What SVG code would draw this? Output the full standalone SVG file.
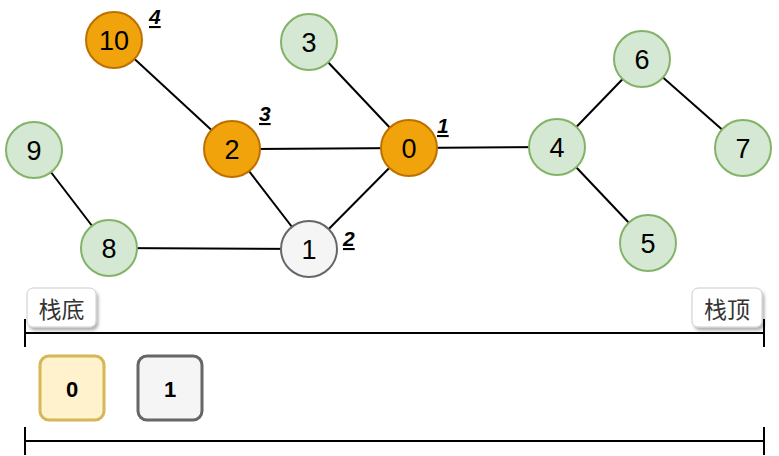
<svg xmlns="http://www.w3.org/2000/svg" width="779" height="456" viewBox="0 0 779 456">
<defs>
<style>
.g{fill:#d5e8d4;stroke:#82b366;stroke-width:2}
.o{fill:#f0a30a;stroke:#bd7000;stroke-width:2}
.w{fill:#f5f5f5;stroke:#666666;stroke-width:2}
.t{font-family:"Liberation Sans","DejaVu Sans",sans-serif;font-size:27px;text-anchor:middle;dominant-baseline:central;fill:#000}
.n{font-family:"Liberation Sans","DejaVu Sans",sans-serif;font-size:21px;font-weight:bold;font-style:italic;text-decoration:underline;fill:#000}
.e line{stroke:#000;stroke-width:2}
.lab{fill:#fff;stroke:#cccccc;stroke-width:1}
.lt{font-family:"Noto Sans CJK SC",sans-serif;font-size:23px;text-anchor:middle;dominant-baseline:central;fill:#333}
.s{font-family:"Liberation Sans","DejaVu Sans",sans-serif;font-size:22px;font-weight:bold;text-anchor:middle;dominant-baseline:central;fill:#000}
</style>
<filter id="sh" x="-20%" y="-20%" width="150%" height="150%"><feDropShadow dx="2" dy="3" stdDeviation="1.5" flood-color="#000" flood-opacity="0.3"/></filter>
</defs>
<g id="connectors" class="e">
<line x1="114" y1="40" x2="232" y2="149"/>
<line x1="309" y1="42" x2="409" y2="148"/>
<line x1="232" y1="149" x2="409" y2="148"/>
<line x1="232" y1="149" x2="309" y2="249"/>
<line x1="409" y1="148" x2="309" y2="249"/>
<line x1="409" y1="148" x2="557" y2="147"/>
<line x1="557" y1="147" x2="642" y2="59"/>
<line x1="642" y1="59" x2="743" y2="148"/>
<line x1="557" y1="147" x2="648" y2="243"/>
<line x1="34" y1="150" x2="109" y2="248"/>
<line x1="109" y1="248" x2="309" y2="249"/>
</g>
<g id="n10"><circle class="o" cx="114" cy="40" r="28"/><text class="t" x="114" y="41">10</text></g>
<g id="n3"><circle class="g" cx="309" cy="42" r="28"/><text class="t" x="309" y="43">3</text></g>
<g id="n6"><circle class="g" cx="642" cy="59" r="28"/><text class="t" x="642" y="60">6</text></g>
<g id="n9"><circle class="g" cx="34" cy="150" r="28"/><text class="t" x="34" y="151">9</text></g>
<g id="n2"><circle class="o" cx="232" cy="149" r="28"/><text class="t" x="232" y="150">2</text></g>
<g id="n0"><circle class="o" cx="409" cy="148" r="28"/><text class="t" x="409" y="149">0</text></g>
<g id="n4"><circle class="g" cx="557" cy="147" r="28"/><text class="t" x="557" y="148">4</text></g>
<g id="n7"><circle class="g" cx="743" cy="148" r="28"/><text class="t" x="743" y="149">7</text></g>
<g id="n8"><circle class="g" cx="109" cy="248" r="28"/><text class="t" x="109" y="249">8</text></g>
<g id="n1"><circle class="w" cx="309" cy="249" r="28"/><text class="t" x="309" y="250">1</text></g>
<g id="n5"><circle class="g" cx="648" cy="243" r="28"/><text class="t" x="648" y="244">5</text></g>
<g id="order">
<text class="n" x="149" y="24">4</text>
<text class="n" x="259" y="121">3</text>
<text class="n" x="437" y="133">1</text>
<text class="n" x="343" y="246">2</text>
</g>
<g id="stack">
<line x1="25" y1="333" x2="764" y2="333" stroke="#000" stroke-width="2"/>
<line x1="25" y1="319" x2="25" y2="347" stroke="#000" stroke-width="2"/>
<line x1="764" y1="319" x2="764" y2="347" stroke="#000" stroke-width="2"/>
<line x1="25" y1="441" x2="764" y2="441" stroke="#000" stroke-width="2"/>
<line x1="25" y1="427" x2="25" y2="455" stroke="#000" stroke-width="2"/>
<line x1="764" y1="427" x2="764" y2="455" stroke="#000" stroke-width="2"/>
</g>
<g id="bottom-label"><rect class="lab" x="27" y="288" width="69" height="39" rx="6" filter="url(#sh)"/><text class="lt" x="61.5" y="308">栈底</text></g>
<g id="top-label"><rect class="lab" x="692" y="288" width="70" height="39" rx="6" filter="url(#sh)"/><text class="lt" x="727" y="308">栈顶</text></g>
<g id="s0"><rect x="40" y="356" width="64" height="64" rx="9" fill="#fff2cc" stroke="#d6b656" stroke-width="3"/><text class="s" x="72" y="389">0</text></g>
<g id="s1"><rect x="138" y="356" width="64" height="64" rx="9" fill="#f5f5f5" stroke="#666666" stroke-width="3"/><text class="s" x="170" y="389">1</text></g>
</svg>
